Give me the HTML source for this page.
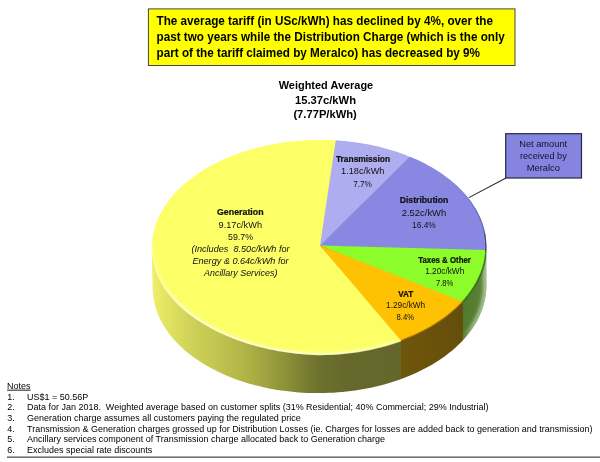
<!DOCTYPE html>
<html><head><meta charset="utf-8"><title>Weighted Average Tariff</title>
<style>
html,body{margin:0;padding:0;background:#fff;}
body{width:600px;height:462px;overflow:hidden;}
svg{display:block;font-family:"Liberation Sans",sans-serif;}
</style></head><body>
<svg width="600" height="462" viewBox="0 0 600 462">
<defs>
<linearGradient id="side" gradientUnits="userSpaceOnUse" x1="151.70" y1="0" x2="486.39" y2="0">
<stop offset="0.0009" stop-color="rgb(240,240,110)"/>
<stop offset="0.0188" stop-color="rgb(233,234,101)"/>
<stop offset="0.0427" stop-color="rgb(226,228,97)"/>
<stop offset="0.0696" stop-color="rgb(219,221,93)"/>
<stop offset="0.1144" stop-color="rgb(208,211,88)"/>
<stop offset="0.1443" stop-color="rgb(202,205,85)"/>
<stop offset="0.1891" stop-color="rgb(195,198,81)"/>
<stop offset="0.2339" stop-color="rgb(186,189,76)"/>
<stop offset="0.2788" stop-color="rgb(176,180,71)"/>
<stop offset="0.3236" stop-color="rgb(164,168,65)"/>
<stop offset="0.3684" stop-color="rgb(150,154,60)"/>
<stop offset="0.4132" stop-color="rgb(137,141,55)"/>
<stop offset="0.4580" stop-color="rgb(121,125,49)"/>
<stop offset="0.5028" stop-color="rgb(109,113,45)"/>
<stop offset="0.5775" stop-color="rgb(102,105,43)"/>
<stop offset="0.7435" stop-color="rgb(101,103,42)"/>
<stop offset="0.7453" stop-color="rgb(111,86,12)"/>
<stop offset="0.9285" stop-color="rgb(100,78,10)"/>
<stop offset="0.9302" stop-color="rgb(82,122,44)"/>
<stop offset="0.9689" stop-color="rgb(88,126,52)"/>
<stop offset="1.0018" stop-color="rgb(100,136,68)"/>
</linearGradient>
<linearGradient id="rim" gradientUnits="userSpaceOnUse" x1="150" y1="0" x2="490" y2="0">
<stop offset="0.0059" stop-color="rgb(255,255,215)" stop-opacity="0.00"/>
<stop offset="0.0471" stop-color="rgb(255,255,215)" stop-opacity="0.55"/>
<stop offset="0.1118" stop-color="rgb(255,255,215)" stop-opacity="0.95"/>
<stop offset="0.4412" stop-color="rgb(255,255,205)" stop-opacity="0.95"/>
<stop offset="0.7363" stop-color="rgb(255,255,170)" stop-opacity="0.80"/>
<stop offset="0.7392" stop-color="rgb(150,100,0)" stop-opacity="0.45"/>
<stop offset="0.9184" stop-color="rgb(130,90,0)" stop-opacity="0.50"/>
<stop offset="0.9213" stop-color="rgb(40,90,10)" stop-opacity="0.55"/>
<stop offset="1.0000" stop-color="rgb(30,70,10)" stop-opacity="0.70"/>
</linearGradient>
<linearGradient id="gband" gradientUnits="userSpaceOnUse" x1="455" y1="0" x2="490" y2="0">
<stop offset="0.2" stop-color="#d4ecc4" stop-opacity="0"/>
<stop offset="0.5" stop-color="#d4ecc4" stop-opacity="0.5"/>
<stop offset="1" stop-color="#d4ecc4" stop-opacity="0.6"/>
</linearGradient>
<linearGradient id="gdrim" gradientUnits="userSpaceOnUse" x1="0" y1="175" x2="0" y2="245">
<stop offset="0" stop-color="#3c3c96" stop-opacity="0"/>
<stop offset="1" stop-color="#3c3c96" stop-opacity="0.8"/>
</linearGradient>
<clipPath id="topclip"><path d="M486.30,245.82 L486.26,248.64 L486.11,251.47 L485.84,254.29 L485.46,257.11 L484.97,259.92 L484.36,262.72 L483.64,265.52 L482.81,268.29 L481.86,271.06 L480.81,273.80 L479.64,276.53 L478.36,279.24 L476.97,281.92 L475.48,284.58 L473.88,287.22 L472.17,289.82 L470.35,292.40 L468.43,294.95 L466.41,297.46 L464.29,299.93 L462.07,302.37 L459.75,304.77 L457.34,307.13 L454.83,309.45 L452.23,311.72 L449.53,313.95 L446.75,316.14 L443.88,318.27 L440.92,320.36 L437.88,322.39 L434.76,324.37 L431.55,326.30 L428.28,328.17 L424.92,329.99 L421.50,331.75 L418.00,333.45 L414.44,335.09 L410.81,336.67 L407.11,338.19 L403.36,339.64 L399.55,341.03 L395.68,342.35 L391.77,343.61 L387.80,344.80 L383.78,345.93 L379.72,346.98 L375.62,347.97 L371.48,348.89 L367.30,349.74 L363.09,350.51 L358.85,351.22 L354.59,351.85 L350.30,352.41 L345.98,352.90 L341.65,353.32 L337.31,353.66 L332.95,353.93 L328.58,354.12 L324.20,354.25 L319.82,354.30 L315.44,354.18 L311.07,353.99 L306.69,353.72 L302.33,353.39 L297.98,352.98 L293.64,352.50 L289.32,351.95 L285.02,351.33 L280.75,350.64 L276.50,349.88 L272.27,349.05 L268.09,348.15 L263.93,347.19 L259.82,346.17 L255.74,345.07 L251.71,343.92 L247.72,342.70 L243.78,341.42 L239.90,340.07 L236.07,338.67 L232.29,337.21 L228.57,335.69 L224.92,334.12 L221.33,332.49 L217.81,330.80 L214.36,329.06 L210.98,327.27 L207.67,325.43 L204.44,323.55 L201.29,321.61 L198.22,319.62 L195.23,317.60 L192.32,315.52 L189.51,313.41 L186.78,311.25 L184.14,309.06 L181.59,306.82 L179.14,304.55 L176.79,302.25 L174.53,299.91 L172.37,297.53 L170.31,295.13 L168.36,292.70 L166.50,290.24 L164.75,287.75 L163.11,285.24 L161.58,282.71 L160.15,280.15 L158.83,277.58 L157.62,274.99 L156.52,272.38 L155.53,269.75 L154.66,267.11 L153.89,264.46 L153.24,261.80 L152.71,259.13 L152.29,256.45 L151.98,253.76 L151.78,251.08 L151.70,248.38 L151.74,245.58 L151.89,242.77 L152.16,239.97 L152.54,237.17 L153.03,234.38 L153.64,231.60 L154.36,228.83 L155.19,226.07 L156.14,223.32 L157.19,220.60 L158.36,217.89 L159.64,215.20 L161.03,212.53 L162.52,209.88 L164.12,207.26 L165.83,204.67 L167.65,202.11 L169.57,199.58 L171.59,197.08 L173.71,194.61 L175.93,192.19 L178.25,189.79 L180.66,187.44 L183.17,185.13 L185.77,182.86 L188.47,180.64 L191.25,178.46 L194.12,176.33 L197.08,174.24 L200.12,172.21 L203.24,170.23 L206.45,168.30 L209.72,166.42 L213.08,164.60 L216.50,162.84 L220.00,161.13 L223.56,159.48 L227.19,157.90 L230.89,156.37 L234.64,154.91 L238.45,153.51 L242.32,152.17 L246.23,150.90 L250.20,149.69 L254.22,148.55 L258.28,147.48 L262.38,146.48 L266.52,145.55 L270.70,144.68 L274.91,143.89 L279.15,143.16 L283.41,142.51 L287.70,141.93 L292.02,141.42 L296.35,140.99 L300.69,140.62 L305.05,140.33 L309.42,140.12 L313.80,139.97 L318.18,139.90 L322.56,139.91 L326.93,139.98 L331.31,140.13 L335.67,140.36 L340.02,140.65 L344.36,141.02 L348.68,141.46 L352.98,141.98 L357.25,142.57 L361.50,143.22 L365.73,143.95 L369.91,144.75 L374.07,145.62 L378.18,146.56 L382.26,147.57 L386.29,148.65 L390.28,149.79 L394.22,151.00 L398.10,152.28 L401.93,153.62 L405.71,155.03 L409.43,156.50 L413.08,158.03 L416.67,159.62 L420.19,161.27 L423.64,162.98 L427.02,164.75 L430.33,166.58 L433.56,168.46 L436.71,170.39 L439.78,172.38 L442.77,174.42 L445.68,176.50 L448.49,178.64 L451.22,180.82 L453.86,183.05 L456.41,185.32 L458.86,187.64 L461.21,189.99 L463.47,192.39 L465.63,194.82 L467.69,197.29 L469.64,199.79 L471.50,202.33 L473.25,204.89 L474.89,207.48 L476.42,210.11 L477.85,212.75 L479.17,215.42 L480.38,218.11 L481.48,220.83 L482.47,223.56 L483.34,226.30 L484.11,229.06 L484.76,231.83 L485.29,234.62 L485.71,237.41 L486.02,240.21 L486.22,243.01 Z"/></clipPath>
<clipPath id="hullclip"><path d="M152.61,288.20 L151.70,248.38 L151.74,245.58 L151.89,242.77 L152.16,239.97 L152.54,237.17 L153.03,234.38 L153.64,231.60 L154.36,228.83 L155.19,226.07 L156.14,223.32 L157.19,220.60 L158.36,217.89 L159.64,215.20 L161.03,212.53 L162.52,209.88 L164.12,207.26 L165.83,204.67 L167.65,202.11 L169.57,199.58 L171.59,197.08 L173.71,194.61 L175.93,192.19 L178.25,189.79 L180.66,187.44 L183.17,185.13 L185.77,182.86 L188.47,180.64 L191.25,178.46 L194.12,176.33 L197.08,174.24 L200.12,172.21 L203.24,170.23 L206.45,168.30 L209.72,166.42 L213.08,164.60 L216.50,162.84 L220.00,161.13 L223.56,159.48 L227.19,157.90 L230.89,156.37 L234.64,154.91 L238.45,153.51 L242.32,152.17 L246.23,150.90 L250.20,149.69 L254.22,148.55 L258.28,147.48 L262.38,146.48 L266.52,145.55 L270.70,144.68 L274.91,143.89 L279.15,143.16 L283.41,142.51 L287.70,141.93 L292.02,141.42 L296.35,140.99 L300.69,140.62 L305.05,140.33 L309.42,140.12 L313.80,139.97 L318.18,139.90 L322.56,139.91 L326.93,139.98 L331.31,140.13 L335.67,140.36 L340.02,140.65 L344.36,141.02 L348.68,141.46 L352.98,141.98 L357.25,142.57 L361.50,143.22 L365.73,143.95 L369.91,144.75 L374.07,145.62 L378.18,146.56 L382.26,147.57 L386.29,148.65 L390.28,149.79 L394.22,151.00 L398.10,152.28 L401.93,153.62 L405.71,155.03 L409.43,156.50 L413.08,158.03 L416.67,159.62 L420.19,161.27 L423.64,162.98 L427.02,164.75 L430.33,166.58 L433.56,168.46 L436.71,170.39 L439.78,172.38 L442.77,174.42 L445.68,176.50 L448.49,178.64 L451.22,180.82 L453.86,183.05 L456.41,185.32 L458.86,187.64 L461.21,189.99 L463.47,192.39 L465.63,194.82 L467.69,197.29 L469.64,199.79 L471.50,202.33 L473.25,204.89 L474.89,207.48 L476.42,210.11 L477.85,212.75 L479.17,215.42 L480.38,218.11 L481.48,220.83 L482.47,223.56 L483.34,226.30 L484.11,229.06 L484.76,231.83 L485.29,234.62 L485.71,237.41 L486.02,240.21 L486.22,243.01 L486.30,245.82 L486.39,285.00 L486.36,287.79 L486.22,290.57 L485.96,293.36 L485.58,296.14 L485.10,298.91 L484.50,301.68 L483.78,304.43 L482.96,307.17 L482.02,309.90 L480.97,312.62 L479.81,315.31 L478.54,317.99 L477.16,320.64 L475.67,323.27 L474.08,325.87 L472.38,328.45 L470.57,331.00 L468.67,333.52 L466.66,336.01 L464.54,338.46 L462.33,340.88 L460.02,343.26 L457.62,345.60 L455.12,347.90 L452.53,350.16 L449.84,352.37 L447.07,354.54 L444.21,356.67 L441.26,358.74 L438.23,360.77 L435.12,362.75 L431.93,364.67 L428.67,366.54 L425.32,368.35 L421.91,370.11 L418.42,371.81 L414.87,373.46 L411.25,375.04 L407.57,376.56 L403.83,378.03 L400.03,379.43 L396.18,380.76 L392.27,382.03 L388.32,383.24 L384.31,384.38 L380.26,385.45 L376.17,386.45 L372.04,387.39 L367.88,388.25 L363.68,389.05 L359.45,389.78 L355.20,390.43 L350.92,391.02 L346.62,391.53 L342.30,391.97 L337.96,392.34 L333.61,392.64 L329.26,392.87 L324.89,393.02 L320.52,393.10 L316.15,393.10 L311.79,393.03 L307.42,392.89 L303.07,392.68 L298.73,392.39 L294.40,392.03 L290.09,391.60 L285.80,391.10 L281.53,390.53 L277.29,389.88 L273.08,389.16 L268.90,388.38 L264.75,387.52 L260.65,386.60 L256.58,385.60 L252.55,384.54 L248.57,383.41 L244.64,382.22 L240.76,380.95 L236.94,379.63 L233.17,378.24 L229.46,376.79 L225.81,375.27 L222.23,373.70 L218.71,372.06 L215.27,370.37 L211.89,368.62 L208.59,366.81 L205.36,364.95 L202.21,363.04 L199.14,361.07 L196.16,359.05 L193.26,356.98 L190.44,354.86 L187.72,352.70 L185.08,350.49 L182.54,348.24 L180.09,345.95 L177.74,343.61 L175.48,341.24 L173.32,338.82 L171.26,336.38 L169.31,333.89 L167.45,331.38 L165.70,328.83 L164.06,326.26 L162.52,323.66 L161.09,321.03 L159.77,318.38 L158.56,315.71 L157.46,313.02 L156.47,310.31 L155.59,307.58 L154.82,304.84 L154.17,302.09 L153.63,299.33 L153.20,296.55 L152.89,293.77 L152.69,290.99 Z"/></clipPath>
<filter id="b2" x="-5%" y="-5%" width="110%" height="110%"><feGaussianBlur stdDeviation="1.4"/></filter>
</defs>
<rect width="600" height="462" fill="#fff"/>
<!-- header box -->
<rect x="148.4" y="8.9" width="366.6" height="56.6" fill="#ffff00" stroke="#444" stroke-width="1"/>
<!-- pie side -->
<path d="M486.30,245.82 L486.39,285.00 L486.36,287.79 L486.22,290.57 L485.96,293.36 L485.58,296.14 L485.10,298.91 L484.50,301.68 L483.78,304.43 L482.96,307.17 L482.02,309.90 L480.97,312.62 L479.81,315.31 L478.54,317.99 L477.16,320.64 L475.67,323.27 L474.08,325.87 L472.38,328.45 L470.57,331.00 L468.67,333.52 L466.66,336.01 L464.54,338.46 L462.33,340.88 L460.02,343.26 L457.62,345.60 L455.12,347.90 L452.53,350.16 L449.84,352.37 L447.07,354.54 L444.21,356.67 L441.26,358.74 L438.23,360.77 L435.12,362.75 L431.93,364.67 L428.67,366.54 L425.32,368.35 L421.91,370.11 L418.42,371.81 L414.87,373.46 L411.25,375.04 L407.57,376.56 L403.83,378.03 L400.03,379.43 L396.18,380.76 L392.27,382.03 L388.32,383.24 L384.31,384.38 L380.26,385.45 L376.17,386.45 L372.04,387.39 L367.88,388.25 L363.68,389.05 L359.45,389.78 L355.20,390.43 L350.92,391.02 L346.62,391.53 L342.30,391.97 L337.96,392.34 L333.61,392.64 L329.26,392.87 L324.89,393.02 L320.52,393.10 L316.15,393.10 L311.79,393.03 L307.42,392.89 L303.07,392.68 L298.73,392.39 L294.40,392.03 L290.09,391.60 L285.80,391.10 L281.53,390.53 L277.29,389.88 L273.08,389.16 L268.90,388.38 L264.75,387.52 L260.65,386.60 L256.58,385.60 L252.55,384.54 L248.57,383.41 L244.64,382.22 L240.76,380.95 L236.94,379.63 L233.17,378.24 L229.46,376.79 L225.81,375.27 L222.23,373.70 L218.71,372.06 L215.27,370.37 L211.89,368.62 L208.59,366.81 L205.36,364.95 L202.21,363.04 L199.14,361.07 L196.16,359.05 L193.26,356.98 L190.44,354.86 L187.72,352.70 L185.08,350.49 L182.54,348.24 L180.09,345.95 L177.74,343.61 L175.48,341.24 L173.32,338.82 L171.26,336.38 L169.31,333.89 L167.45,331.38 L165.70,328.83 L164.06,326.26 L162.52,323.66 L161.09,321.03 L159.77,318.38 L158.56,315.71 L157.46,313.02 L156.47,310.31 L155.59,307.58 L154.82,304.84 L154.17,302.09 L153.63,299.33 L153.20,296.55 L152.89,293.77 L152.69,290.99 L152.61,288.20 L151.70,248.38 L320.00,245.50 Z" fill="url(#side)"/>
<g clip-path="url(#hullclip)" fill="none">
<path d="M152.61,288.20 L151.70,248.38 L151.74,245.58 L151.89,242.77 L152.16,239.97 L152.54,237.17 L153.03,234.38 L153.64,231.60 L154.36,228.83 L155.19,226.07 L156.14,223.32 L157.19,220.60 L158.36,217.89 L159.64,215.20 L161.03,212.53 L162.52,209.88 L164.12,207.26 L165.83,204.67 L167.65,202.11 L169.57,199.58 L171.59,197.08 L173.71,194.61 L175.93,192.19 L178.25,189.79 L180.66,187.44 L183.17,185.13 L185.77,182.86 L188.47,180.64 L191.25,178.46 L194.12,176.33 L197.08,174.24 L200.12,172.21 L203.24,170.23 L206.45,168.30 L209.72,166.42 L213.08,164.60 L216.50,162.84 L220.00,161.13 L223.56,159.48 L227.19,157.90 L230.89,156.37 L234.64,154.91 L238.45,153.51 L242.32,152.17 L246.23,150.90 L250.20,149.69 L254.22,148.55 L258.28,147.48 L262.38,146.48 L266.52,145.55 L270.70,144.68 L274.91,143.89 L279.15,143.16 L283.41,142.51 L287.70,141.93 L292.02,141.42 L296.35,140.99 L300.69,140.62 L305.05,140.33 L309.42,140.12 L313.80,139.97 L318.18,139.90 L322.56,139.91 L326.93,139.98 L331.31,140.13 L335.67,140.36 L340.02,140.65 L344.36,141.02 L348.68,141.46 L352.98,141.98 L357.25,142.57 L361.50,143.22 L365.73,143.95 L369.91,144.75 L374.07,145.62 L378.18,146.56 L382.26,147.57 L386.29,148.65 L390.28,149.79 L394.22,151.00 L398.10,152.28 L401.93,153.62 L405.71,155.03 L409.43,156.50 L413.08,158.03 L416.67,159.62 L420.19,161.27 L423.64,162.98 L427.02,164.75 L430.33,166.58 L433.56,168.46 L436.71,170.39 L439.78,172.38 L442.77,174.42 L445.68,176.50 L448.49,178.64 L451.22,180.82 L453.86,183.05 L456.41,185.32 L458.86,187.64 L461.21,189.99 L463.47,192.39 L465.63,194.82 L467.69,197.29 L469.64,199.79 L471.50,202.33 L473.25,204.89 L474.89,207.48 L476.42,210.11 L477.85,212.75 L479.17,215.42 L480.38,218.11 L481.48,220.83 L482.47,223.56 L483.34,226.30 L484.11,229.06 L484.76,231.83 L485.29,234.62 L485.71,237.41 L486.02,240.21 L486.22,243.01 L486.30,245.82 L486.39,285.00 L486.36,287.79 L486.22,290.57 L485.96,293.36 L485.58,296.14 L485.10,298.91 L484.50,301.68 L483.78,304.43 L482.96,307.17 L482.02,309.90 L480.97,312.62 L479.81,315.31 L478.54,317.99 L477.16,320.64 L475.67,323.27 L474.08,325.87 L472.38,328.45 L470.57,331.00 L468.67,333.52 L466.66,336.01 L464.54,338.46 L462.33,340.88 L460.02,343.26 L457.62,345.60 L455.12,347.90 L452.53,350.16 L449.84,352.37 L447.07,354.54 L444.21,356.67 L441.26,358.74 L438.23,360.77 L435.12,362.75 L431.93,364.67 L428.67,366.54 L425.32,368.35 L421.91,370.11 L418.42,371.81 L414.87,373.46 L411.25,375.04 L407.57,376.56 L403.83,378.03 L400.03,379.43 L396.18,380.76 L392.27,382.03 L388.32,383.24 L384.31,384.38 L380.26,385.45 L376.17,386.45 L372.04,387.39 L367.88,388.25 L363.68,389.05 L359.45,389.78 L355.20,390.43 L350.92,391.02 L346.62,391.53 L342.30,391.97 L337.96,392.34 L333.61,392.64 L329.26,392.87 L324.89,393.02 L320.52,393.10 L316.15,393.10 L311.79,393.03 L307.42,392.89 L303.07,392.68 L298.73,392.39 L294.40,392.03 L290.09,391.60 L285.80,391.10 L281.53,390.53 L277.29,389.88 L273.08,389.16 L268.90,388.38 L264.75,387.52 L260.65,386.60 L256.58,385.60 L252.55,384.54 L248.57,383.41 L244.64,382.22 L240.76,380.95 L236.94,379.63 L233.17,378.24 L229.46,376.79 L225.81,375.27 L222.23,373.70 L218.71,372.06 L215.27,370.37 L211.89,368.62 L208.59,366.81 L205.36,364.95 L202.21,363.04 L199.14,361.07 L196.16,359.05 L193.26,356.98 L190.44,354.86 L187.72,352.70 L185.08,350.49 L182.54,348.24 L180.09,345.95 L177.74,343.61 L175.48,341.24 L173.32,338.82 L171.26,336.38 L169.31,333.89 L167.45,331.38 L165.70,328.83 L164.06,326.26 L162.52,323.66 L161.09,321.03 L159.77,318.38 L158.56,315.71 L157.46,313.02 L156.47,310.31 L155.59,307.58 L154.82,304.84 L154.17,302.09 L153.63,299.33 L153.20,296.55 L152.89,293.77 L152.69,290.99 Z" stroke="url(#gband)" stroke-width="7" filter="url(#b2)"/>
</g>
<!-- pie top -->
<path d="M320.00,245.50 L403.74,339.50 L399.88,340.91 L395.97,342.26 L392.00,343.54 L387.99,344.75 L383.92,345.89 L379.81,346.96 L375.65,347.96 L371.46,348.89 L367.23,349.75 L362.96,350.53 L358.67,351.25 L354.34,351.88 L349.99,352.45 L345.62,352.94 L341.23,353.35 L336.83,353.69 L332.41,353.96 L327.98,354.15 L323.55,354.26 L319.11,354.28 L314.67,354.15 L310.24,353.94 L305.81,353.66 L301.39,353.30 L296.99,352.87 L292.60,352.37 L288.23,351.80 L283.87,351.15 L279.55,350.43 L275.25,349.64 L270.98,348.78 L266.75,347.85 L262.55,346.86 L258.40,345.79 L254.28,344.66 L250.21,343.47 L246.19,342.21 L242.23,340.89 L238.31,339.50 L234.45,338.06 L230.65,336.55 L226.92,334.99 L223.24,333.37 L219.64,331.69 L216.11,329.95 L212.64,328.17 L209.26,326.33 L205.95,324.44 L202.71,322.50 L199.57,320.51 L196.50,318.47 L193.52,316.39 L190.63,314.27 L187.83,312.10 L185.12,309.89 L182.51,307.64 L179.99,305.35 L177.57,303.03 L175.25,300.67 L173.03,298.28 L170.92,295.85 L168.90,293.40 L167.00,290.91 L165.20,288.40 L163.51,285.86 L161.92,283.30 L160.45,280.72 L159.09,278.11 L157.84,275.49 L156.71,272.85 L155.69,270.19 L154.78,267.52 L153.99,264.83 L153.32,262.14 L152.76,259.43 L152.32,256.72 L152.00,254.00 L151.79,251.28 L151.71,248.55 L151.74,245.71 L151.88,242.87 L152.15,240.03 L152.53,237.20 L153.03,234.37 L153.65,231.55 L154.38,228.74 L155.23,225.95 L156.19,223.17 L157.27,220.41 L158.46,217.66 L159.77,214.94 L161.18,212.24 L162.71,209.56 L164.35,206.91 L166.10,204.29 L167.95,201.70 L169.91,199.14 L171.98,196.61 L174.15,194.12 L176.42,191.67 L178.79,189.26 L181.26,186.88 L183.82,184.55 L186.48,182.26 L189.24,180.02 L192.09,177.83 L195.02,175.68 L198.04,173.59 L201.15,171.54 L204.34,169.55 L207.61,167.62 L210.96,165.74 L214.39,163.91 L217.89,162.15 L221.46,160.45 L225.10,158.80 L228.80,157.22 L232.57,155.70 L236.40,154.25 L240.29,152.86 L244.23,151.54 L248.23,150.28 L252.27,149.10 L256.36,147.98 L260.50,146.93 L264.68,145.95 L268.89,145.05 L273.14,144.21 L277.43,143.45 L281.74,142.76 L286.08,142.14 L290.44,141.60 L294.82,141.13 L299.22,140.74 L303.63,140.42 L308.06,140.18 L312.49,140.01 L316.92,139.92 L321.36,139.90 L325.80,139.96 L330.23,140.09 L334.65,140.30 L339.06,140.58 Z" fill="#fdff66"/>
<path d="M320.00,245.50 L335.74,140.36 L340.56,140.69 L345.36,141.12 L350.15,141.63 L354.90,142.23 L359.63,142.92 L364.32,143.70 L368.97,144.57 L373.58,145.52 L378.15,146.55 L382.67,147.68 L387.13,148.88 L391.53,150.17 L395.88,151.54 L400.16,152.99 L404.37,154.52 L408.50,156.13 L412.57,157.81 Z" fill="#aeadef"/>
<path d="M320.00,245.50 L409.78,156.64 L413.53,158.22 L417.22,159.87 L420.83,161.58 L424.37,163.36 L427.84,165.19 L431.22,167.09 L434.52,169.04 L437.74,171.05 L440.88,173.11 L443.92,175.23 L446.88,177.40 L449.74,179.62 L452.50,181.89 L455.17,184.21 L457.74,186.57 L460.21,188.98 L462.58,191.43 L464.84,193.91 L467.00,196.44 L469.05,199.01 L470.99,201.61 L472.81,204.24 L474.53,206.91 L476.14,209.60 L477.63,212.32 L479.00,215.06 L480.26,217.83 L481.40,220.62 L482.43,223.43 L483.33,226.26 L484.12,229.10 L484.78,231.96 L485.33,234.82 L485.75,237.70 L486.06,240.58 L486.24,243.47 L486.30,246.36 L486.24,249.27 L486.05,252.18 Z" fill="#8888e2"/>
<path d="M320.00,245.50 L486.20,250.02 L485.96,253.16 L485.59,256.29 L485.07,259.41 L484.41,262.52 L483.61,265.62 L482.68,268.70 L481.60,271.76 L480.39,274.81 L479.04,277.82 L477.56,280.82 L475.94,283.78 L474.19,286.71 L472.31,289.61 L470.30,292.47 L468.17,295.29 L465.90,298.07 L463.52,300.80 L461.01,303.49 Z" fill="#8cfc2a"/>
<path d="M320.00,245.50 L462.75,301.65 L460.20,304.32 L457.54,306.94 L454.76,309.51 L451.86,312.03 L448.85,314.50 L445.74,316.90 L442.51,319.25 L439.19,321.53 L435.76,323.75 L432.23,325.90 L428.61,327.99 L424.89,330.01 L421.09,331.95 L417.19,333.83 L413.22,335.63 L409.17,337.35 L405.04,339.00 L400.84,340.57 Z" fill="#fec202"/>
<g clip-path="url(#topclip)" fill="none"><path d="M396.42,342.11 L392.91,343.25 L389.35,344.35 L385.76,345.39 L382.12,346.37 L378.46,347.30 L374.76,348.17 L371.02,348.98 L367.26,349.74 L363.48,350.44 L359.66,351.09 L355.83,351.67 L351.97,352.20 L348.10,352.67 L344.21,353.08 L340.31,353.43 L336.39,353.72 L332.47,353.95 L328.54,354.13 L324.60,354.24 L320.66,354.29 L316.71,354.22 L312.77,354.07 L308.84,353.86 L304.91,353.59 L300.98,353.27 L297.07,352.88 L293.17,352.44 L289.28,351.94 L285.41,351.39 L281.56,350.77 L277.73,350.10 L273.92,349.38 L270.14,348.60 L266.38,347.77 L262.65,346.88 L258.96,345.94 L255.29,344.95 L251.67,343.91 L248.08,342.81 L244.53,341.66 L241.02,340.47 L237.55,339.23 L234.13,337.93 L230.76,336.60 L227.44,335.21 L224.16,333.78 L220.94,332.30 L217.78,330.79 L214.67,329.22 L211.61,327.62 L208.62,325.97 L205.69,324.29 L202.82,322.56 L200.02,320.80 L197.28,319.00 L194.61,317.16 L192.01,315.29 L189.48,313.39 L187.02,311.45 L184.63,309.48 L182.32,307.47 L180.09,305.44 L177.93,303.38 L175.85,301.29 L173.85,299.17 L171.93,297.03 L170.09,294.87 L168.34,292.68 L166.67,290.46 L165.08,288.23 L163.58,285.97 L162.16,283.70 L160.83,281.41 L159.59,279.10 L158.44,276.78 L157.38,274.44 L156.41,272.09 L155.52,269.72 L154.73,267.35 L154.03,264.96 L153.42,262.57 L152.90,260.17 L152.48,257.76 L152.15,255.35 L151.91,252.93 L151.76,250.51 L151.70,248.08 L151.74,245.55 L151.87,243.03" stroke="#ffffe6" stroke-opacity="0.38" stroke-width="4.5" filter="url(#b2)"/></g>
<g clip-path="url(#hullclip)" fill="none"><path d="M484.99,232.99 L485.48,235.78 L485.86,238.58 L486.12,241.38 L486.26,244.19 L486.29,247.01 L486.21,249.84 L486.01,252.67 L485.70,255.50 L485.27,258.31 L484.72,261.13 L484.07,263.93 L483.30,266.72 L482.41,269.49 L481.42,272.25 L480.31,274.99 L479.09,277.72 L477.77,280.42 L476.33,283.10 L474.78,285.75 L473.13,288.37 L471.37,290.97 L469.51,293.54 L467.55,296.07 L465.48,298.57 L463.31,301.03 L461.04,303.46 L458.68,305.84 L456.21,308.19 L453.66,310.49 L451.01,312.75 L448.27,314.96 L445.44,317.12 L442.53,319.24 L439.53,321.30 L436.45,323.31 L433.28,325.27 L430.04,327.18 L426.72,329.03 L423.33,330.82 L419.87,332.55 L416.33,334.23 L412.73,335.84 L409.07,337.39 L405.34,338.88 L401.56,340.31 L397.72,341.67 L393.82,342.96 L389.87,344.19 L385.88,345.35 L381.83,346.44 L377.75,347.47 L373.62,348.42 L369.46,349.31 L365.26,350.12 L361.03,350.86 L356.77,351.54 L352.49,352.13 L348.18,352.66 L343.85,353.11 L339.51,353.49 L335.15,353.80 L330.78,354.03 L326.40,354.19 L322.02,354.28 L317.63,354.25 L313.25,354.09 L308.87,353.86 L304.49,353.56 L300.13,353.19 L295.78,352.74 L291.44,352.23 L287.13,351.64 L282.83,350.98 L278.57,350.26 L274.32,349.46 L270.11,348.60 L265.94,347.67 L261.80,346.67 L257.70,345.61 L253.64,344.48 L249.62,343.29 L245.66,342.04 L241.74,340.72 L237.88,339.35 L234.07,337.91 L230.32,336.42 L226.63,334.87 L223.01,333.26 L219.45,331.60 L215.96,329.88 L212.54,328.11 L209.20,326.30 L205.93,324.43 L202.73,322.51 L199.62,320.54 L196.59,318.53 L193.64,316.48 L190.78,314.38 L188.01,312.24 L185.33,310.06 L182.73,307.84 L180.24,305.58 L177.84,303.29 L175.53,300.96 L173.32,298.60 L171.22,296.21 L169.21,293.78 L167.31,291.33 L165.51,288.86 L163.82,286.35 L162.24,283.83 L160.76,281.28 L159.39,278.71 L158.13,276.12 L156.98,273.51 L155.95,270.89 L155.02,268.25 L154.21,265.60 L153.51,262.94 L152.92,260.27 L152.45,257.59 L152.09,254.91 L151.85,252.22 L151.72,249.52 L151.71,246.76 L151.81,243.95 L152.03,241.14 L152.36,238.34 L152.81,235.54" stroke="url(#rim)" stroke-width="1.8"/></g>
<g clip-path="url(#topclip)" fill="none"><path d="M409.78,156.64 L411.64,157.41 L413.48,158.20 L415.31,159.01 L417.12,159.83 L418.92,160.67 L420.70,161.52 L422.45,162.38 L424.19,163.27 L425.92,164.16 L427.62,165.07 L429.30,166.00 L430.97,166.94 L432.61,167.89 L434.23,168.86 L435.84,169.84 L437.42,170.84 L438.98,171.85 L440.52,172.87 L442.04,173.91 L443.54,174.96 L445.02,176.02 L446.47,177.09 L447.90,178.18 L449.31,179.28 L450.69,180.39 L452.05,181.51 L453.39,182.65 L454.71,183.79 L456.00,184.95 L457.26,186.12 L458.50,187.30 L459.72,188.49 L460.91,189.69 L462.08,190.89 L463.22,192.11 L464.33,193.34 L465.42,194.58 L466.49,195.83 L467.53,197.09 L468.54,198.36 L469.52,199.63 L470.48,200.91 L471.41,202.21 L472.32,203.50 L473.19,204.81 L474.04,206.13 L474.87,207.45 L475.66,208.78 L476.43,210.11 L477.17,211.46 L477.88,212.80 L478.56,214.16 L479.22,215.52 L479.84,216.89 L480.44,218.26 L481.01,219.63 L481.55,221.01 L482.06,222.40 L482.55,223.79 L483.00,225.19 L483.43,226.58 L483.82,227.99 L484.19,229.39 L484.53,230.80 L484.84,232.21 L485.11,233.63 L485.36,235.04 L485.58,236.46 L485.77,237.88 L485.94,239.30 L486.07,240.73 L486.17,242.15 L486.24,243.58 L486.28,245.00 L486.30,246.43 L486.28,247.87 L486.23,249.31 L486.16,250.75 L486.05,252.18" stroke="url(#gdrim)" stroke-width="2"/></g>
<!-- callout -->
<line x1="506" y1="178" x2="468.8" y2="197.6" stroke="#262626" stroke-width="1.05"/>
<rect x="505.7" y="133.7" width="75.8" height="44.3" fill="#8585e0" stroke="#26264a" stroke-width="1.2"/>
<!-- rule -->
<rect x="7" y="456.5" width="593" height="1.3" fill="#505050"/>
<text x="156.5" y="25.3" font-size="11.90" fill="#000" textLength="336.5" lengthAdjust="spacingAndGlyphs" font-weight="bold" style="white-space:pre">The average tariff (in USc/kWh) has declined by 4%, over the</text>
<text x="156.5" y="41.3" font-size="11.90" fill="#000" textLength="348.2" lengthAdjust="spacingAndGlyphs" font-weight="bold" style="white-space:pre">past two years while the Distribution Charge (which is the only</text>
<text x="156.5" y="57.3" font-size="11.90" fill="#000" textLength="323.5" lengthAdjust="spacingAndGlyphs" font-weight="bold" style="white-space:pre">part of the tariff claimed by Meralco) has decreased by 9%</text>
<text x="278.7" y="89.4" font-size="10.90" fill="#000" textLength="94.5" lengthAdjust="spacingAndGlyphs" font-weight="bold" style="white-space:pre">Weighted Average</text>
<text x="295.0" y="103.9" font-size="10.90" fill="#000" textLength="61.0" lengthAdjust="spacingAndGlyphs" font-weight="bold" style="white-space:pre">15.37c/kWh</text>
<text x="293.4" y="117.9" font-size="10.90" fill="#000" textLength="63.4" lengthAdjust="spacingAndGlyphs" font-weight="bold" style="white-space:pre">(7.77P/kWh)</text>
<text x="217.0" y="215.0" font-size="8.50" fill="#111" stroke="#111" stroke-width="0.22" textLength="46.6" lengthAdjust="spacingAndGlyphs" font-weight="bold" style="white-space:pre">Generation</text>
<text x="218.6" y="227.5" font-size="8.50" fill="#111" textLength="43.4" lengthAdjust="spacingAndGlyphs" style="white-space:pre">9.17c/kWh</text>
<text x="228.0" y="239.6" font-size="8.50" fill="#111" textLength="25.0" lengthAdjust="spacingAndGlyphs" style="white-space:pre">59.7%</text>
<text x="191.4" y="251.7" font-size="8.50" fill="#111" textLength="98.2" lengthAdjust="spacingAndGlyphs" font-style="italic" style="white-space:pre">(Includes  8.50c/kWh for</text>
<text x="192.4" y="263.8" font-size="8.50" fill="#111" textLength="96.2" lengthAdjust="spacingAndGlyphs" font-style="italic" style="white-space:pre">Energy &amp; 0.64c/kWh for</text>
<text x="204.0" y="276.0" font-size="8.50" fill="#111" textLength="73.4" lengthAdjust="spacingAndGlyphs" font-style="italic" style="white-space:pre">Ancillary Services)</text>
<text x="335.9" y="161.6" font-size="8.50" fill="#111" stroke="#111" stroke-width="0.22" textLength="54.2" lengthAdjust="spacingAndGlyphs" font-weight="bold" style="white-space:pre">Transmission</text>
<text x="341.1" y="174.2" font-size="8.50" fill="#111" textLength="43.3" lengthAdjust="spacingAndGlyphs" style="white-space:pre">1.18c/kWh</text>
<text x="353.2" y="186.6" font-size="8.50" fill="#111" textLength="18.7" lengthAdjust="spacingAndGlyphs" style="white-space:pre">7.7%</text>
<text x="399.7" y="203.3" font-size="8.50" fill="#111" stroke="#111" stroke-width="0.22" textLength="48.6" lengthAdjust="spacingAndGlyphs" font-weight="bold" style="white-space:pre">Distribution</text>
<text x="401.7" y="215.5" font-size="8.50" fill="#111" textLength="44.6" lengthAdjust="spacingAndGlyphs" style="white-space:pre">2.52c/kWh</text>
<text x="412.0" y="227.5" font-size="8.50" fill="#111" textLength="23.8" lengthAdjust="spacingAndGlyphs" style="white-space:pre">16.4%</text>
<text x="418.2" y="262.8" font-size="8.20" fill="#111" stroke="#111" stroke-width="0.22" textLength="52.7" lengthAdjust="spacingAndGlyphs" font-weight="bold" style="white-space:pre">Taxes &amp; Other</text>
<text x="425.2" y="274.3" font-size="8.20" fill="#111" textLength="39.1" lengthAdjust="spacingAndGlyphs" style="white-space:pre">1.20c/kWh</text>
<text x="435.9" y="285.6" font-size="8.20" fill="#111" textLength="17.5" lengthAdjust="spacingAndGlyphs" style="white-space:pre">7.8%</text>
<text x="398.3" y="297.0" font-size="8.20" fill="#111" stroke="#111" stroke-width="0.22" textLength="15.0" lengthAdjust="spacingAndGlyphs" font-weight="bold" style="white-space:pre">VAT</text>
<text x="386.1" y="308.3" font-size="8.20" fill="#111" textLength="39.1" lengthAdjust="spacingAndGlyphs" style="white-space:pre">1.29c/kWh</text>
<text x="396.6" y="319.5" font-size="8.20" fill="#111" textLength="17.5" lengthAdjust="spacingAndGlyphs" style="white-space:pre">8.4%</text>
<text x="519.2" y="147.2" font-size="8.60" fill="#101032" textLength="48.0" lengthAdjust="spacingAndGlyphs" style="white-space:pre">Net amount</text>
<text x="520.0" y="159.2" font-size="8.60" fill="#101032" textLength="46.7" lengthAdjust="spacingAndGlyphs" style="white-space:pre">received by</text>
<text x="526.7" y="171.2" font-size="8.60" fill="#101032" textLength="33.3" lengthAdjust="spacingAndGlyphs" style="white-space:pre">Meralco</text>
<text x="7.1" y="388.7" font-size="8.97" fill="#000" text-decoration="underline" style="white-space:pre">Notes</text>
<text x="7.2" y="399.5" font-size="8.97" fill="#000" style="white-space:pre">1.</text>
<text x="27.1" y="399.5" font-size="8.97" fill="#000" style="white-space:pre">US$1 = 50.56P</text>
<text x="7.2" y="410.2" font-size="8.97" fill="#000" style="white-space:pre">2.</text>
<text x="27.1" y="410.2" font-size="8.97" fill="#000" style="white-space:pre">Data for Jan 2018.  Weighted average based on customer splits (31% Residential; 40% Commercial; 29% Industrial)</text>
<text x="7.2" y="420.9" font-size="8.97" fill="#000" style="white-space:pre">3.</text>
<text x="27.1" y="420.9" font-size="8.97" fill="#000" style="white-space:pre">Generation charge assumes all customers paying the regulated price</text>
<text x="7.2" y="431.6" font-size="8.97" fill="#000" style="white-space:pre">4.</text>
<text x="27.1" y="431.6" font-size="8.97" fill="#000" style="white-space:pre">Transmission &amp; Generation charges grossed up for Distribution Losses (ie. Charges for losses are added back to generation and transmission)</text>
<text x="7.2" y="442.3" font-size="8.97" fill="#000" style="white-space:pre">5.</text>
<text x="27.1" y="442.3" font-size="8.97" fill="#000" style="white-space:pre">Ancillary services component of Transmission charge allocated back to Generation charge</text>
<text x="7.2" y="453.0" font-size="8.97" fill="#000" style="white-space:pre">6.</text>
<text x="27.1" y="453.0" font-size="8.97" fill="#000" style="white-space:pre">Excludes special rate discounts</text>
</svg>
</body></html>
